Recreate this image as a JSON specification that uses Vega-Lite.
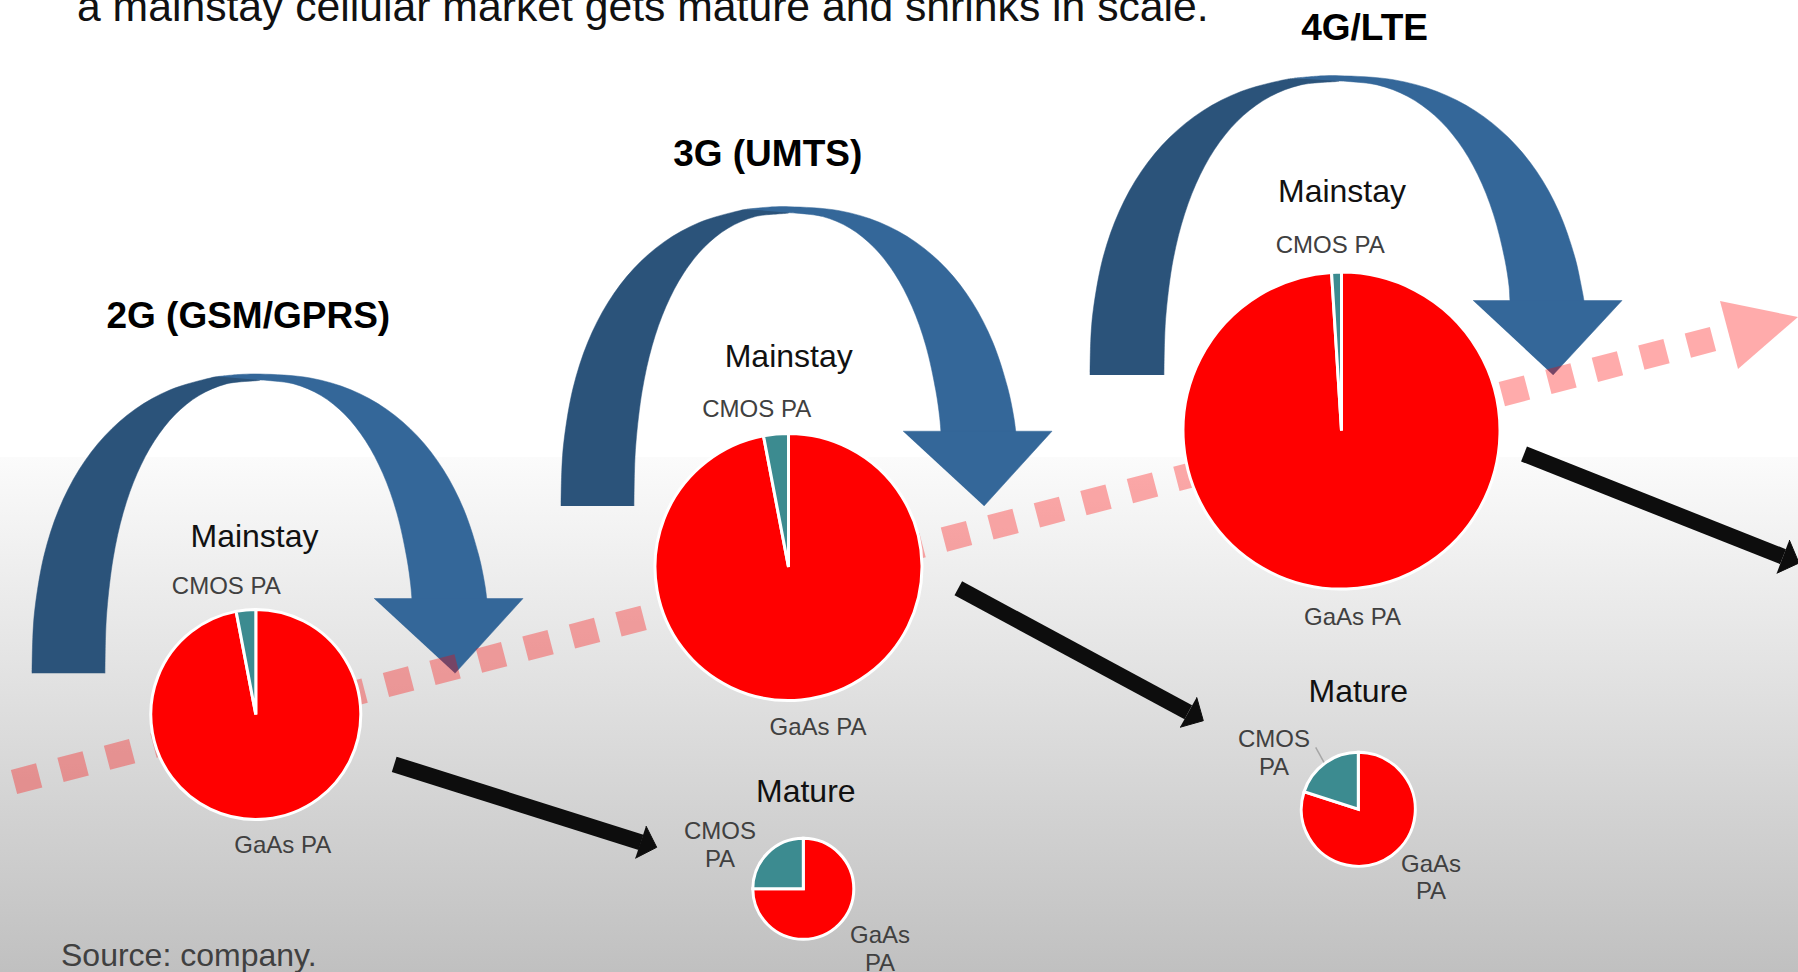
{
  "$schema": "https://vega.github.io/schema/vega-lite/v6.json",
  "width": 1798,
  "height": 972,
  "padding": 0,
  "autosize": {"type": "none"},
  "background": "white",
  "config": {"view": {"stroke": null}, "font": "Liberation Sans"},
  "datasets": {
    "backdrop": [{"x": 0, "x2": 1798, "y": 457, "y2": 972}],
    "bands": [
      {"arrow": "2G", "part": "dark", "i": 0, "x": 32, "y": 673.3},
      {"arrow": "2G", "part": "dark", "i": 1, "x": 32.8, "y": 637.4},
      {"arrow": "2G", "part": "dark", "i": 2, "x": 35, "y": 608},
      {"arrow": "2G", "part": "dark", "i": 3, "x": 44, "y": 555.6},
      {"arrow": "2G", "part": "dark", "i": 4, "x": 58.8, "y": 509.5},
      {"arrow": "2G", "part": "dark", "i": 5, "x": 79.2, "y": 469.5},
      {"arrow": "2G", "part": "dark", "i": 6, "x": 104.8, "y": 435.9},
      {"arrow": "2G", "part": "dark", "i": 7, "x": 135.2, "y": 409.2},
      {"arrow": "2G", "part": "dark", "i": 8, "x": 170.3, "y": 389.8},
      {"arrow": "2G", "part": "dark", "i": 9, "x": 210.3, "y": 378},
      {"arrow": "2G", "part": "dark", "i": 10, "x": 218, "y": 376.6},
      {"arrow": "2G", "part": "dark", "i": 11, "x": 260, "y": 380},
      {"arrow": "2G", "part": "dark", "i": 12, "x": 226.2, "y": 383.9},
      {"arrow": "2G", "part": "dark", "i": 13, "x": 199, "y": 395.5},
      {"arrow": "2G", "part": "dark", "i": 14, "x": 175.2, "y": 414.5},
      {"arrow": "2G", "part": "dark", "i": 15, "x": 154.5, "y": 440.7},
      {"arrow": "2G", "part": "dark", "i": 16, "x": 137.1, "y": 473.6},
      {"arrow": "2G", "part": "dark", "i": 17, "x": 123.2, "y": 512.8},
      {"arrow": "2G", "part": "dark", "i": 18, "x": 113.2, "y": 557.9},
      {"arrow": "2G", "part": "dark", "i": 19, "x": 107, "y": 609.3},
      {"arrow": "2G", "part": "dark", "i": 20, "x": 105.5, "y": 638.2},
      {"arrow": "2G", "part": "dark", "i": 21, "x": 105, "y": 673.3},

      {"arrow": "2G", "part": "light", "i": 0, "x": 218, "y": 376.5},
      {"arrow": "2G", "part": "light", "i": 1, "x": 239, "y": 374.5},
      {"arrow": "2G", "part": "light", "i": 2, "x": 260, "y": 374},
      {"arrow": "2G", "part": "light", "i": 3, "x": 310.4, "y": 378},
      {"arrow": "2G", "part": "light", "i": 4, "x": 350.9, "y": 389.8},
      {"arrow": "2G", "part": "light", "i": 5, "x": 386.4, "y": 409.2},
      {"arrow": "2G", "part": "light", "i": 6, "x": 417.3, "y": 435.9},
      {"arrow": "2G", "part": "light", "i": 7, "x": 443.2, "y": 469.5},
      {"arrow": "2G", "part": "light", "i": 8, "x": 463.8, "y": 509.5},
      {"arrow": "2G", "part": "light", "i": 9, "x": 478.8, "y": 555.6},
      {"arrow": "2G", "part": "light", "i": 10, "x": 484.9, "y": 585},
      {"arrow": "2G", "part": "light", "i": 11, "x": 486.9, "y": 600},
      {"arrow": "2G", "part": "light", "i": 12, "x": 488.7, "y": 616},
      {"arrow": "2G", "part": "light", "i": 13, "x": 413.4, "y": 616},
      {"arrow": "2G", "part": "light", "i": 14, "x": 412, "y": 600},
      {"arrow": "2G", "part": "light", "i": 15, "x": 410.7, "y": 585},
      {"arrow": "2G", "part": "light", "i": 16, "x": 406.8, "y": 557.9},
      {"arrow": "2G", "part": "light", "i": 17, "x": 396.8, "y": 512.8},
      {"arrow": "2G", "part": "light", "i": 18, "x": 382.9, "y": 473.6},
      {"arrow": "2G", "part": "light", "i": 19, "x": 365.5, "y": 440.7},
      {"arrow": "2G", "part": "light", "i": 20, "x": 344.8, "y": 414.5},
      {"arrow": "2G", "part": "light", "i": 21, "x": 321, "y": 395.5},
      {"arrow": "2G", "part": "light", "i": 22, "x": 293.8, "y": 383.9},
      {"arrow": "2G", "part": "light", "i": 23, "x": 260, "y": 380},

      {"arrow": "3G", "part": "dark", "i": 0, "x": 561, "y": 506},
      {"arrow": "3G", "part": "dark", "i": 1, "x": 561.8, "y": 470.1},
      {"arrow": "3G", "part": "dark", "i": 2, "x": 564, "y": 440.7},
      {"arrow": "3G", "part": "dark", "i": 3, "x": 573, "y": 388.3},
      {"arrow": "3G", "part": "dark", "i": 4, "x": 587.8, "y": 342.2},
      {"arrow": "3G", "part": "dark", "i": 5, "x": 608.2, "y": 302.2},
      {"arrow": "3G", "part": "dark", "i": 6, "x": 633.8, "y": 268.6},
      {"arrow": "3G", "part": "dark", "i": 7, "x": 664.2, "y": 241.9},
      {"arrow": "3G", "part": "dark", "i": 8, "x": 699.3, "y": 222.5},
      {"arrow": "3G", "part": "dark", "i": 9, "x": 739.3, "y": 210.7},
      {"arrow": "3G", "part": "dark", "i": 10, "x": 747, "y": 209.3},
      {"arrow": "3G", "part": "dark", "i": 11, "x": 789, "y": 212.7},
      {"arrow": "3G", "part": "dark", "i": 12, "x": 755.2, "y": 216.6},
      {"arrow": "3G", "part": "dark", "i": 13, "x": 728, "y": 228.2},
      {"arrow": "3G", "part": "dark", "i": 14, "x": 704.2, "y": 247.2},
      {"arrow": "3G", "part": "dark", "i": 15, "x": 683.5, "y": 273.4},
      {"arrow": "3G", "part": "dark", "i": 16, "x": 666.1, "y": 306.3},
      {"arrow": "3G", "part": "dark", "i": 17, "x": 652.2, "y": 345.5},
      {"arrow": "3G", "part": "dark", "i": 18, "x": 642.2, "y": 390.6},
      {"arrow": "3G", "part": "dark", "i": 19, "x": 636, "y": 442},
      {"arrow": "3G", "part": "dark", "i": 20, "x": 634.5, "y": 470.9},
      {"arrow": "3G", "part": "dark", "i": 21, "x": 634, "y": 506},

      {"arrow": "3G", "part": "light", "i": 0, "x": 747, "y": 209.2},
      {"arrow": "3G", "part": "light", "i": 1, "x": 768, "y": 207.2},
      {"arrow": "3G", "part": "light", "i": 2, "x": 789, "y": 206.7},
      {"arrow": "3G", "part": "light", "i": 3, "x": 839.4, "y": 210.7},
      {"arrow": "3G", "part": "light", "i": 4, "x": 879.9, "y": 222.5},
      {"arrow": "3G", "part": "light", "i": 5, "x": 915.4, "y": 241.9},
      {"arrow": "3G", "part": "light", "i": 6, "x": 946.3, "y": 268.6},
      {"arrow": "3G", "part": "light", "i": 7, "x": 972.2, "y": 302.2},
      {"arrow": "3G", "part": "light", "i": 8, "x": 992.8, "y": 342.2},
      {"arrow": "3G", "part": "light", "i": 9, "x": 1007.8, "y": 388.3},
      {"arrow": "3G", "part": "light", "i": 10, "x": 1013.9, "y": 417.7},
      {"arrow": "3G", "part": "light", "i": 11, "x": 1015.9, "y": 432.7},
      {"arrow": "3G", "part": "light", "i": 12, "x": 1017.7, "y": 448.7},
      {"arrow": "3G", "part": "light", "i": 13, "x": 942.4, "y": 448.7},
      {"arrow": "3G", "part": "light", "i": 14, "x": 941, "y": 432.7},
      {"arrow": "3G", "part": "light", "i": 15, "x": 939.7, "y": 417.7},
      {"arrow": "3G", "part": "light", "i": 16, "x": 935.8, "y": 390.6},
      {"arrow": "3G", "part": "light", "i": 17, "x": 925.8, "y": 345.5},
      {"arrow": "3G", "part": "light", "i": 18, "x": 911.9, "y": 306.3},
      {"arrow": "3G", "part": "light", "i": 19, "x": 894.5, "y": 273.4},
      {"arrow": "3G", "part": "light", "i": 20, "x": 873.8, "y": 247.2},
      {"arrow": "3G", "part": "light", "i": 21, "x": 850, "y": 228.2},
      {"arrow": "3G", "part": "light", "i": 22, "x": 822.8, "y": 216.6},
      {"arrow": "3G", "part": "light", "i": 23, "x": 789, "y": 212.7},

      {"arrow": "4G", "part": "dark", "i": 0, "x": 1090, "y": 375},
      {"arrow": "4G", "part": "dark", "i": 1, "x": 1090.8, "y": 339.1},
      {"arrow": "4G", "part": "dark", "i": 2, "x": 1093.3, "y": 309.7},
      {"arrow": "4G", "part": "dark", "i": 3, "x": 1103.1, "y": 257.3},
      {"arrow": "4G", "part": "dark", "i": 4, "x": 1119.3, "y": 211.2},
      {"arrow": "4G", "part": "dark", "i": 5, "x": 1141.5, "y": 171.2},
      {"arrow": "4G", "part": "dark", "i": 6, "x": 1169.5, "y": 137.6},
      {"arrow": "4G", "part": "dark", "i": 7, "x": 1202.7, "y": 110.9},
      {"arrow": "4G", "part": "dark", "i": 8, "x": 1241, "y": 91.5},
      {"arrow": "4G", "part": "dark", "i": 9, "x": 1284.7, "y": 79.7},
      {"arrow": "4G", "part": "dark", "i": 10, "x": 1294, "y": 78.4},
      {"arrow": "4G", "part": "dark", "i": 11, "x": 1339, "y": 81},
      {"arrow": "4G", "part": "dark", "i": 12, "x": 1300.8, "y": 84.9},
      {"arrow": "4G", "part": "dark", "i": 13, "x": 1270.2, "y": 96.5},
      {"arrow": "4G", "part": "dark", "i": 14, "x": 1243.2, "y": 115.6},
      {"arrow": "4G", "part": "dark", "i": 15, "x": 1219.8, "y": 141.8},
      {"arrow": "4G", "part": "dark", "i": 16, "x": 1200.2, "y": 174.8},
      {"arrow": "4G", "part": "dark", "i": 17, "x": 1184.6, "y": 214.1},
      {"arrow": "4G", "part": "dark", "i": 18, "x": 1173.2, "y": 259.3},
      {"arrow": "4G", "part": "dark", "i": 19, "x": 1166.3, "y": 310.8},
      {"arrow": "4G", "part": "dark", "i": 20, "x": 1164.6, "y": 339.8},
      {"arrow": "4G", "part": "dark", "i": 21, "x": 1164, "y": 375},

      {"arrow": "4G", "part": "light", "i": 0, "x": 1294, "y": 78.2},
      {"arrow": "4G", "part": "light", "i": 1, "x": 1316.5, "y": 76.2},
      {"arrow": "4G", "part": "light", "i": 2, "x": 1339, "y": 75.7},
      {"arrow": "4G", "part": "light", "i": 3, "x": 1393.3, "y": 79.7},
      {"arrow": "4G", "part": "light", "i": 4, "x": 1437, "y": 91.5},
      {"arrow": "4G", "part": "light", "i": 5, "x": 1475.3, "y": 110.9},
      {"arrow": "4G", "part": "light", "i": 6, "x": 1508.5, "y": 137.6},
      {"arrow": "4G", "part": "light", "i": 7, "x": 1536.5, "y": 171.2},
      {"arrow": "4G", "part": "light", "i": 8, "x": 1558.7, "y": 211.2},
      {"arrow": "4G", "part": "light", "i": 9, "x": 1574.9, "y": 257.3},
      {"arrow": "4G", "part": "light", "i": 10, "x": 1581.4, "y": 286.7},
      {"arrow": "4G", "part": "light", "i": 11, "x": 1584, "y": 301},
      {"arrow": "4G", "part": "light", "i": 12, "x": 1585.6, "y": 317.7},
      {"arrow": "4G", "part": "light", "i": 13, "x": 1512.2, "y": 317.7},
      {"arrow": "4G", "part": "light", "i": 14, "x": 1510, "y": 301},
      {"arrow": "4G", "part": "light", "i": 15, "x": 1509.1, "y": 286.7},
      {"arrow": "4G", "part": "light", "i": 16, "x": 1504.8, "y": 259.3},
      {"arrow": "4G", "part": "light", "i": 17, "x": 1493.4, "y": 214.1},
      {"arrow": "4G", "part": "light", "i": 18, "x": 1477.8, "y": 174.8},
      {"arrow": "4G", "part": "light", "i": 19, "x": 1458.2, "y": 141.8},
      {"arrow": "4G", "part": "light", "i": 20, "x": 1434.8, "y": 115.6},
      {"arrow": "4G", "part": "light", "i": 21, "x": 1407.8, "y": 96.5},
      {"arrow": "4G", "part": "light", "i": 22, "x": 1377.2, "y": 84.9},
      {"arrow": "4G", "part": "light", "i": 23, "x": 1339, "y": 81}
    ],
    "bandHeads": [
      {"arrow": "2G", "i": 0, "x": 374, "y": 598.5},
      {"arrow": "2G", "i": 1, "x": 523, "y": 598.5},
      {"arrow": "2G", "i": 2, "x": 455, "y": 673.3},
      {"arrow": "3G", "i": 0, "x": 903, "y": 431.2},
      {"arrow": "3G", "i": 1, "x": 1052, "y": 431.2},
      {"arrow": "3G", "i": 2, "x": 984, "y": 506},
      {"arrow": "4G", "i": 0, "x": 1473, "y": 300.5},
      {"arrow": "4G", "i": 1, "x": 1622, "y": 300.5},
      {"arrow": "4G", "i": 2, "x": 1553, "y": 375}
    ],
    "trend": [
      {"x": 14, "y": 782},
      {"x": 1715, "y": 338.5}
    ],
    "trendHead": [
      {"i": 0, "x": 1720, "y": 301},
      {"i": 1, "x": 1798, "y": 317},
      {"i": 2, "x": 1738, "y": 369}
    ],
    "pies": [
      {"pie": "2G mainstay", "x": 255.8, "y": 714.5, "r": 105, "part": "GaAs PA", "share": 97},
      {"pie": "2G mainstay", "x": 255.8, "y": 714.5, "r": 105, "part": "CMOS PA", "share": 3},
      {"pie": "3G mainstay", "x": 788.5, "y": 567, "r": 133.5, "part": "GaAs PA", "share": 97},
      {"pie": "3G mainstay", "x": 788.5, "y": 567, "r": 133.5, "part": "CMOS PA", "share": 3},
      {"pie": "4G mainstay", "x": 1341.5, "y": 430.6, "r": 158.5, "part": "GaAs PA", "share": 99},
      {"pie": "4G mainstay", "x": 1341.5, "y": 430.6, "r": 158.5, "part": "CMOS PA", "share": 1},
      {"pie": "2G mature", "x": 803.3, "y": 888.8, "r": 50.5, "part": "GaAs PA", "share": 75},
      {"pie": "2G mature", "x": 803.3, "y": 888.8, "r": 50.5, "part": "CMOS PA", "share": 25},
      {"pie": "3G mature", "x": 1358.3, "y": 809.3, "r": 57, "part": "GaAs PA", "share": 80},
      {"pie": "3G mature", "x": 1358.3, "y": 809.3, "r": 57, "part": "CMOS PA", "share": 20}
    ],
    "shafts": [
      {"id": "2G", "x": 394.2, "y": 764.3},
      {"id": "2G", "x": 641, "y": 842.3},
      {"id": "3G", "x": 958.3, "y": 588.3},
      {"id": "3G", "x": 1188.3, "y": 712.3},
      {"id": "4G", "x": 1524, "y": 454},
      {"id": "4G", "x": 1783, "y": 556.7}
    ],
    "shaftHeads": [
      {"id": "2G", "i": 0, "x": 646, "y": 826},
      {"id": "2G", "i": 1, "x": 656.7, "y": 847.3},
      {"id": "2G", "i": 2, "x": 635.3, "y": 858.3},
      {"id": "3G", "i": 0, "x": 1196.7, "y": 697.3},
      {"id": "3G", "i": 1, "x": 1203.3, "y": 720.7},
      {"id": "3G", "i": 2, "x": 1180, "y": 727.3},
      {"id": "4G", "i": 0, "x": 1789.3, "y": 540},
      {"id": "4G", "i": 1, "x": 1799, "y": 563},
      {"id": "4G", "i": 2, "x": 1776.7, "y": 573.3}
    ],
    "leader": [
      {"x": 1315.7, "y": 747.3},
      {"x": 1324, "y": 762.3}
    ],
    "partLabels": [
      {"text": "CMOS PA", "x": 226.3, "y": 594.3},
      {"text": "GaAs PA", "x": 282.7, "y": 853.3},
      {"text": "CMOS PA", "x": 756.7, "y": 417.3},
      {"text": "GaAs PA", "x": 818, "y": 735},
      {"text": "CMOS PA", "x": 1330.2, "y": 253.3},
      {"text": "GaAs PA", "x": 1352.5, "y": 625},
      {"text": "CMOS\nPA", "x": 720, "y": 839},
      {"text": "GaAs\nPA", "x": 880, "y": 943.3},
      {"text": "CMOS\nPA", "x": 1274, "y": 747.3},
      {"text": "GaAs\nPA", "x": 1431, "y": 871.7}
    ],
    "stageLabels": [
      {"text": "Mainstay", "x": 254.5, "y": 546.7},
      {"text": "Mainstay", "x": 788.7, "y": 366.7},
      {"text": "Mainstay", "x": 1342, "y": 201.7},
      {"text": "Mature", "x": 805.8, "y": 801.7},
      {"text": "Mature", "x": 1358.3, "y": 701.7}
    ],
    "generations": [
      {"text": "2G (GSM/GPRS)", "x": 248.3, "y": 328},
      {"text": "3G (UMTS)", "x": 767.7, "y": 166.3},
      {"text": "4G/LTE", "x": 1364.6, "y": 39.5}
    ],
    "headline": [
      {"text": "a mainstay cellular market gets mature and shrinks in scale.", "x": 77, "y": 21}
    ],
    "source": [
      {"text": "Source: company.", "x": 61, "y": 965.7}
    ]
  },
  "encoding": {
    "x": {"field": "x", "type": "quantitative", "axis": null, "scale": {"domain": [0, 1798], "nice": false, "zero": false}},
    "y": {"field": "y", "type": "quantitative", "axis": null, "scale": {"domain": [0, 972], "nice": false, "zero": false, "reverse": true}}
  },
  "layer": [
    {
      "data": {"name": "backdrop"},
      "mark": {
        "type": "rect",
        "fill": {
          "gradient": "linear", "x1": 0, "y1": 0, "x2": 0, "y2": 1,
          "stops": [{"offset": 0, "color": "#fbfbfb"}, {"offset": 1, "color": "#c0c0c0"}]
        }
      },
      "encoding": {
        "x2": {"field": "x2"},
        "y2": {"field": "y2"}
      }
    },
    {
      "data": {"name": "bands"},
      "transform": [{"filter": "datum.part === 'dark'"}],
      "mark": {"type": "line", "fill": "#2b537a", "stroke": "#2b537a", "strokeWidth": 0.5, "interpolate": "catmull-rom"},
      "encoding": {
        "detail": {"field": "arrow"},
        "order": {"field": "i", "type": "quantitative"}
      }
    },
    {
      "data": {"name": "bands"},
      "transform": [{"filter": "datum.part === 'light'"}],
      "mark": {"type": "line", "fill": "#346799", "stroke": "#346799", "strokeWidth": 0.5, "interpolate": "catmull-rom"},
      "encoding": {
        "detail": {"field": "arrow"},
        "order": {"field": "i", "type": "quantitative"}
      }
    },
    {
      "data": {"name": "bandHeads"},
      "mark": {"type": "line", "fill": "#346799", "stroke": "#346799", "strokeWidth": 0.5},
      "encoding": {
        "detail": {"field": "arrow"},
        "order": {"field": "i", "type": "quantitative"}
      }
    },
    {
      "data": {"name": "trend"},
      "mark": {"type": "line", "stroke": "#ff0000", "strokeOpacity": 0.33, "strokeWidth": 25, "strokeDash": [26, 22.05], "strokeCap": "butt"},
      "encoding": {}
    },
    {
      "data": {"name": "trendHead"},
      "mark": {"type": "line", "fill": "#ff0000", "fillOpacity": 0.33, "strokeWidth": 0},
      "encoding": {
        "order": {"field": "i", "type": "quantitative"}
      }
    },
    {
      "data": {"name": "pies"},
      "transform": [
        {"stack": "share", "groupby": ["pie"], "sort": [{"field": "part", "order": "descending"}], "offset": "normalize", "as": ["t0", "t1"]}
      ],
      "mark": {"type": "arc", "stroke": "white", "strokeWidth": 3},
      "encoding": {
        "theta": {"field": "t0", "type": "quantitative", "stack": null, "scale": {"domain": [0, 1], "range": [0, 6.283185307]}},
        "theta2": {"field": "t1"},
        "radius": {"field": "r", "type": "quantitative", "scale": null},
        "color": {
          "field": "part", "type": "nominal", "legend": null,
          "scale": {"domain": ["GaAs PA", "CMOS PA"], "range": ["#ff0000", "#3c8b90"]}
        }
      }
    },
    {
      "data": {"name": "shafts"},
      "mark": {"type": "line", "stroke": "#0d0d0d", "strokeWidth": 16, "strokeCap": "butt"},
      "encoding": {"detail": {"field": "id"}}
    },
    {
      "data": {"name": "shaftHeads"},
      "mark": {"type": "line", "fill": "#0d0d0d", "stroke": "#0d0d0d", "strokeWidth": 1},
      "encoding": {
        "detail": {"field": "id"},
        "order": {"field": "i", "type": "quantitative"}
      }
    },
    {
      "data": {"name": "leader"},
      "mark": {"type": "line", "stroke": "#a6a6a6", "strokeWidth": 1.5},
      "encoding": {}
    },
    {
      "data": {"name": "partLabels"},
      "mark": {"type": "text", "fontSize": 24, "color": "#404040", "align": "center", "baseline": "alphabetic", "lineBreak": "\n", "lineHeight": 27.5},
      "encoding": {"text": {"field": "text"}}
    },
    {
      "data": {"name": "stageLabels"},
      "mark": {"type": "text", "fontSize": 32, "color": "#111111", "align": "center", "baseline": "alphabetic"},
      "encoding": {"text": {"field": "text"}}
    },
    {
      "data": {"name": "generations"},
      "mark": {"type": "text", "fontSize": 37, "fontWeight": "bold", "color": "#000000", "align": "center", "baseline": "alphabetic"},
      "encoding": {"text": {"field": "text"}}
    },
    {
      "data": {"name": "headline"},
      "mark": {"type": "text", "fontSize": 42.7, "color": "#111111", "align": "left", "baseline": "alphabetic"},
      "encoding": {"text": {"field": "text"}}
    },
    {
      "data": {"name": "source"},
      "mark": {"type": "text", "fontSize": 32, "color": "#404040", "align": "left", "baseline": "alphabetic"},
      "encoding": {"text": {"field": "text"}}
    }
  ]
}
